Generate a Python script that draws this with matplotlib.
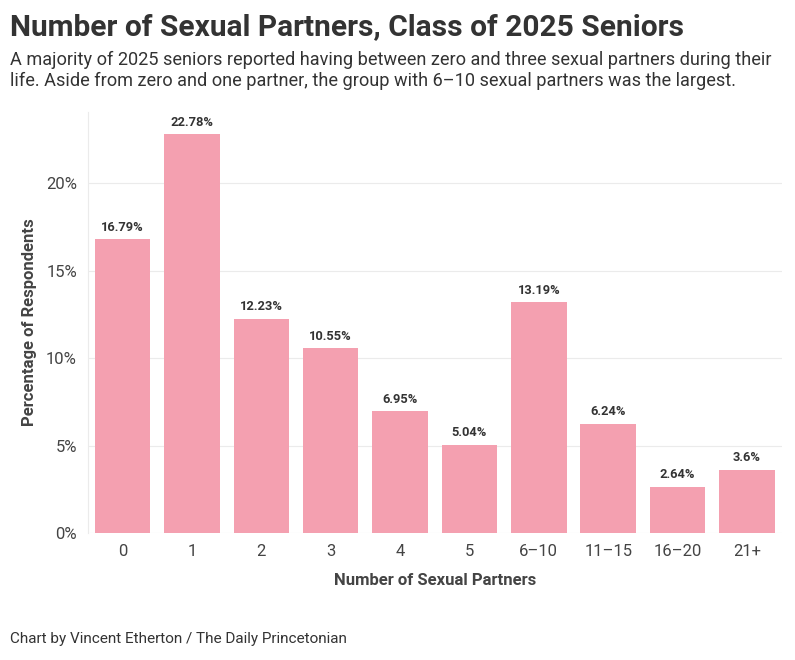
import matplotlib
matplotlib.use("Agg")
import matplotlib.pyplot as plt
from matplotlib.ticker import FuncFormatter

categories = ["0", "1", "2", "3", "4", "5", "6\u201310", "11\u201315", "16\u201320", "21+"]
values = [16.79, 22.78, 12.23, 10.55, 6.95, 5.04, 13.19, 6.24, 2.64, 3.6]
value_labels = ["16.79%", "22.78%", "12.23%", "10.55%", "6.95%", "5.04%", "13.19%", "6.24%", "2.64%", "3.6%"]
yticks = [0, 5, 10, 15, 20]

W, H = 795, 660
fig = plt.figure(figsize=(W/100, H/100), dpi=100)
fam = ["Roboto", "DejaVu Sans"]
plt.rcParams['font.family'] = fam

left, right = 88/W, 781.5/W
bottom, top = 1 - 533/H, 1 - 112/H
ax = fig.add_axes([left, bottom, right-left, top-bottom])

x = list(range(len(categories)))
ax.bar(x, values, width=0.8, color="#F4A0B0", zorder=2)
for xi, v, lab in zip(x, values, value_labels):
    ax.annotate(lab, (xi, v), xytext=(0, 4), textcoords="offset points",
                ha="center", va="bottom", fontsize=9.3, fontweight="bold", color="#333333")

ax.set_xlim(-0.5, len(categories) - 0.5)
ax.set_ylim(0, 24.06)
ax.set_yticks(yticks)
ax.yaxis.set_major_formatter(FuncFormatter(lambda v, p: f"{int(v)}%"))
ax.set_xticks(x)
ax.set_xticklabels(categories)
ax.tick_params(axis="both", length=0, labelsize=12, labelcolor="#444444")
ax.tick_params(axis="x", pad=8)
ax.tick_params(axis="y", pad=8)
ax.grid(axis="y", color="#ebebeb", linewidth=0.8, zorder=0)
for s in ["top", "right", "bottom"]:
    ax.spines[s].set_visible(False)
ax.spines["left"].set_color("#ebebeb")
ax.spines["left"].set_linewidth(0.8)

ax.set_xlabel("Number of Sexual Partners", fontsize=12, fontweight="bold", color="#444444", labelpad=10)
ax.set_ylabel("Percentage of Respondents", fontsize=12, fontweight="bold", color="#444444", va="center")
ax.yaxis.set_label_coords((30 - 88) / (781.5 - 88), 0.5)

fig.text(10/W, 1 - 27/H, "Number of Sexual Partners, Class of 2025 Seniors",
         fontsize=21.5, fontweight="bold", color="#333333", va="center", ha="left")
fig.text(10/W, 1 - 70/H,
         "A majority of 2025 seniors reported having between zero and three sexual partners during their\n"
         "life. Aside from zero and one partner, the group with 6\u201310 sexual partners was the largest.",
         fontsize=13.1, color="#333333", va="center", ha="left", linespacing=1.2)
fig.text(10/W, 1 - 639/H, "Chart by Vincent Etherton / The Daily Princetonian",
         fontsize=11, color="#333333", va="center", ha="left")

fig.savefig("out.png", dpi=100)
